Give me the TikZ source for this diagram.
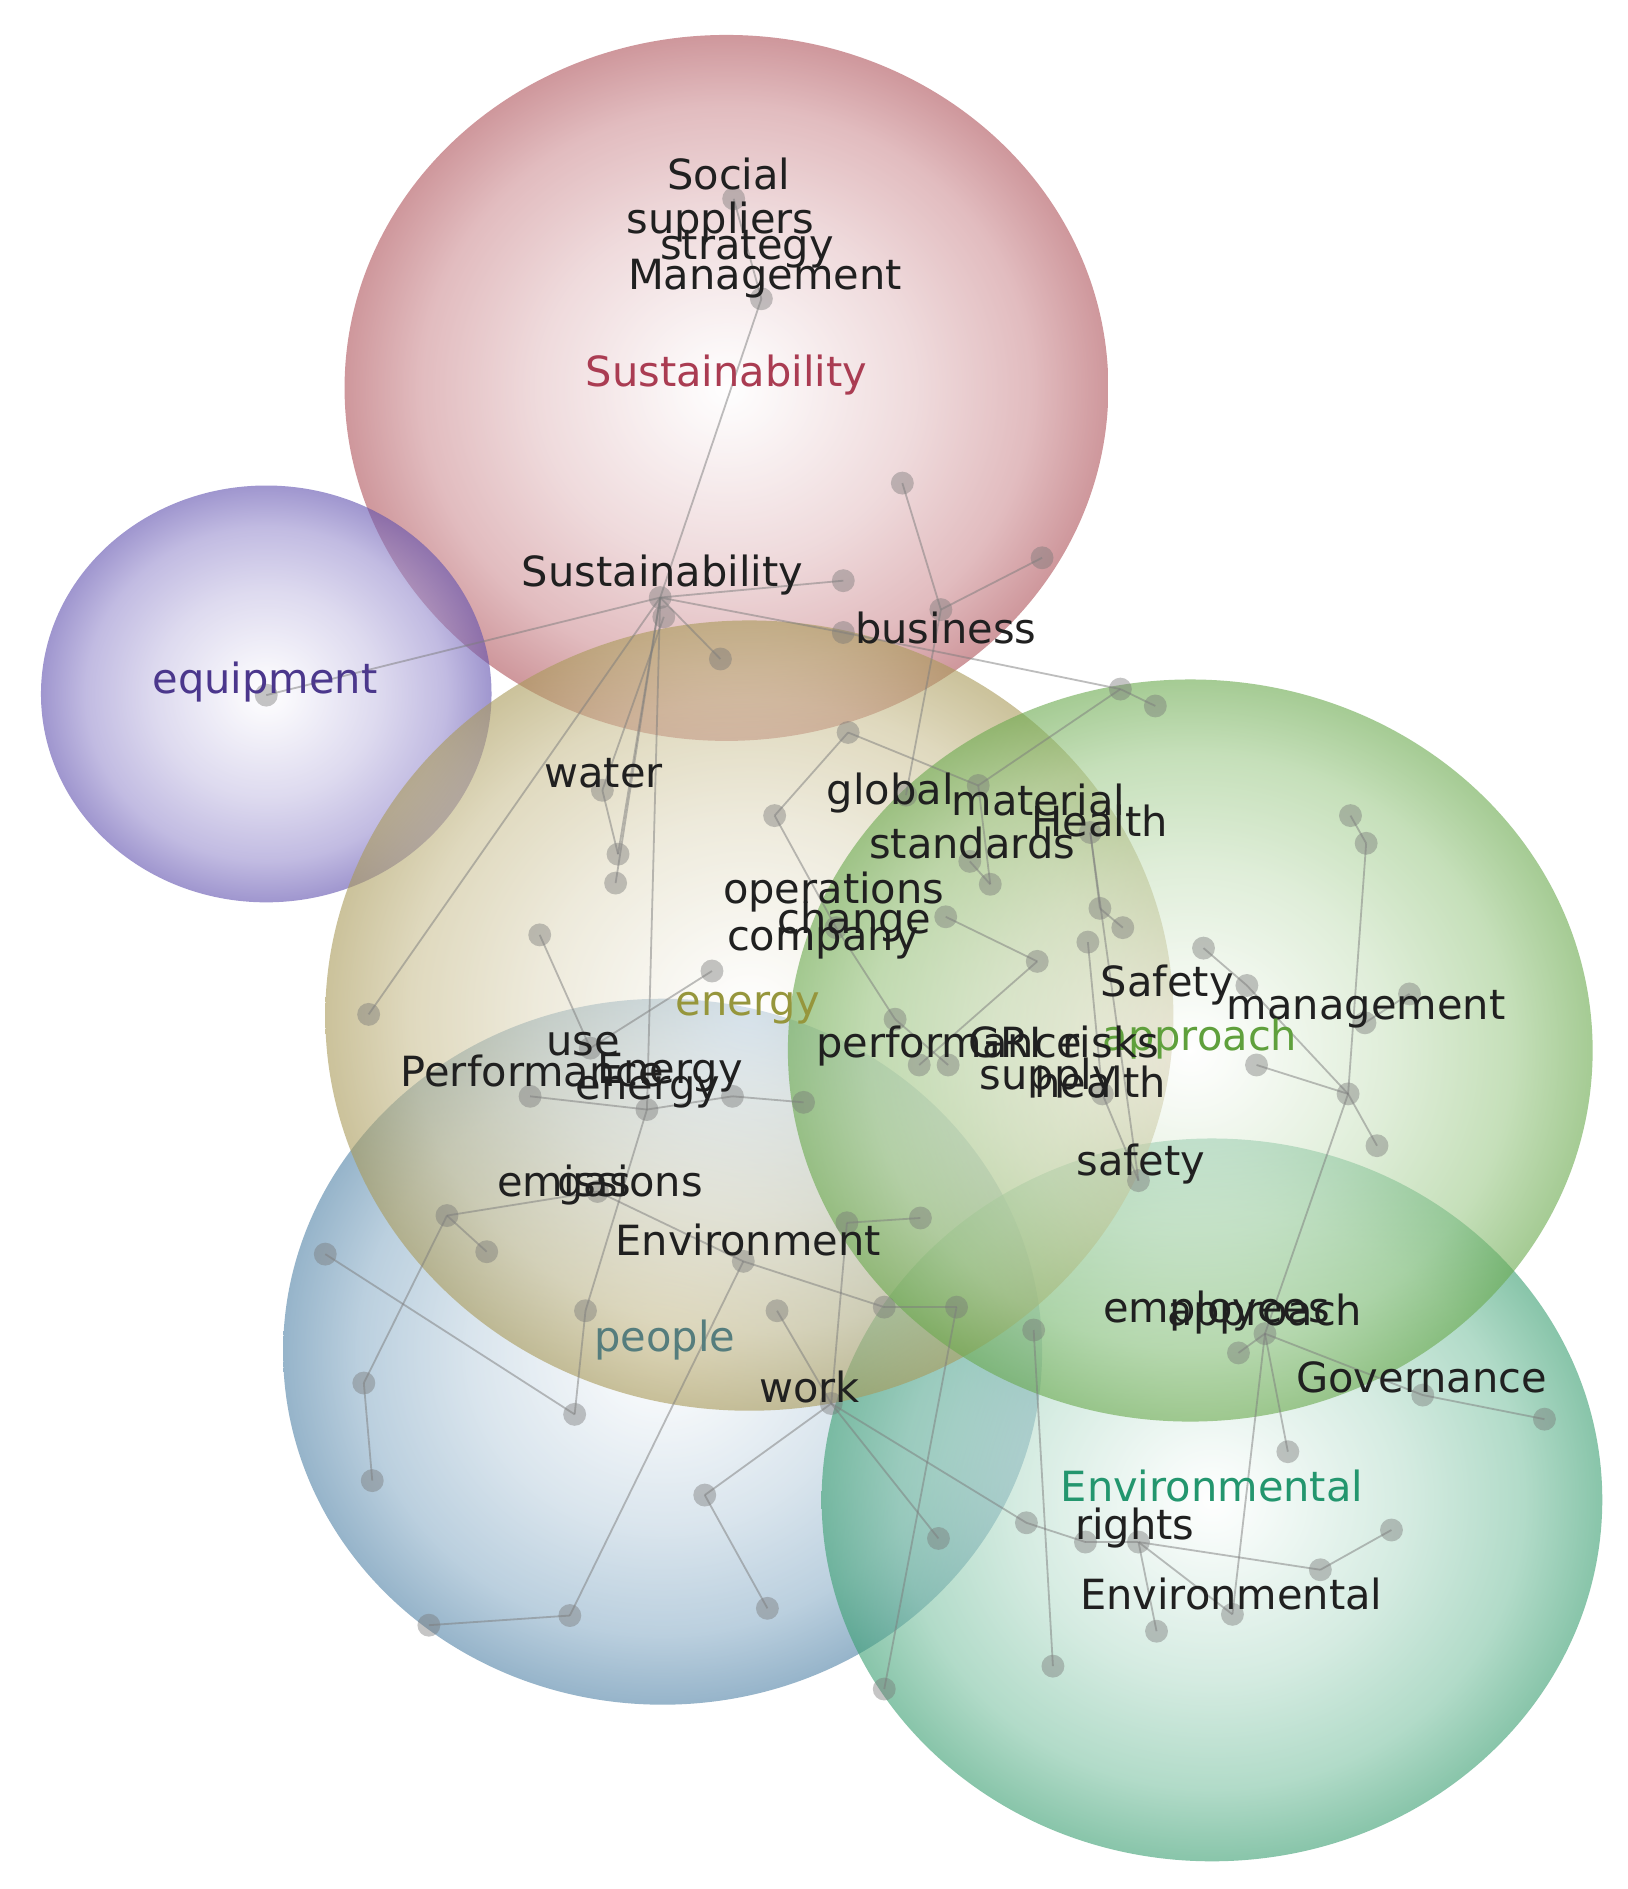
\documentclass[tikz,border=0pt]{standalone}
\usepackage{fontspec}
\setmainfont{DejaVu Sans}
\newfontfamily\lblfamily{DejaVu Sans}
\newcommand\lblfont{\lblfamily\fontsize{34.5}{40}\selectfont}
\definecolor{cRed}{RGB}{182,86,94}
\definecolor{cPur}{RGB}{100,84,182}
\definecolor{cOli}{RGB}{176,160,92}
\definecolor{cGre}{RGB}{110,176,80}
\definecolor{cBlu}{RGB}{84,136,174}
\definecolor{cTea}{RGB}{60,165,118}
\definecolor{lblc}{RGB}{32,32,32}
\definecolor{dotc}{RGB}{118,118,118}
\definecolor{edgec}{RGB}{125,125,125}
\definecolor{tRed}{RGB}{170,60,82}
\definecolor{tPur}{RGB}{75,55,140}
\definecolor{tOli}{RGB}{150,150,60}
\definecolor{tGre}{RGB}{95,160,60}
\definecolor{tBlu}{RGB}{85,125,125}
\definecolor{tTea}{RGB}{35,150,110}
\pgfdeclareradialshading{shRed}{\pgfpoint{0bp}{0bp}}{color(0bp)=(white); color(3bp)=(cRed!8!white); color(12.5bp)=(cRed!36!white); color(20bp)=(cRed!66!white); color(25bp)=(cRed!96!black); color(50bp)=(cRed!96!black)}
\pgfdeclareradialshading{shPur}{\pgfpoint{0bp}{0bp}}{color(0bp)=(white); color(3bp)=(cPur!8!white); color(12.5bp)=(cPur!36!white); color(20bp)=(cPur!66!white); color(25bp)=(cPur!96!black); color(50bp)=(cPur!96!black)}
\pgfdeclareradialshading{shOli}{\pgfpoint{0bp}{0bp}}{color(0bp)=(white); color(3bp)=(cOli!8!white); color(12.5bp)=(cOli!36!white); color(20bp)=(cOli!66!white); color(25bp)=(cOli!96!black); color(50bp)=(cOli!96!black)}
\pgfdeclareradialshading{shGre}{\pgfpoint{0bp}{0bp}}{color(0bp)=(white); color(3bp)=(cGre!8!white); color(12.5bp)=(cGre!36!white); color(20bp)=(cGre!66!white); color(25bp)=(cGre!96!black); color(50bp)=(cGre!96!black)}
\pgfdeclareradialshading{shBlu}{\pgfpoint{0bp}{0bp}}{color(0bp)=(white); color(3bp)=(cBlu!8!white); color(12.5bp)=(cBlu!36!white); color(20bp)=(cBlu!66!white); color(25bp)=(cBlu!96!black); color(50bp)=(cBlu!96!black)}
\pgfdeclareradialshading{shTea}{\pgfpoint{0bp}{0bp}}{color(0bp)=(white); color(3bp)=(cTea!8!white); color(12.5bp)=(cTea!36!white); color(20bp)=(cTea!66!white); color(25bp)=(cTea!96!black); color(50bp)=(cTea!96!black)}
\tikzset{
  lbl/.style={font=\lblfont, text=lblc, inner sep=0pt, anchor=base},
  dot/.style={circle, fill=dotc, fill opacity=0.42, minimum size=19pt, inner sep=0pt},
  edge/.style={draw=edgec, line width=1.5pt, draw opacity=0.5},
  bubble/.style={opacity=0.6},
}
\begin{document}
\begin{tikzpicture}[x=1pt,y=-1pt]
\useasboundingbox (0,0) rectangle (1351,1568);
\fill[white] (0,0) rectangle (1351,1568);
% bubbles
\shade[shading=shRed,bubble] (603,322) ellipse [x radius=317, y radius=293];
\shade[shading=shPur,bubble] (221,576) ellipse [x radius=187, y radius=173];
\shade[shading=shBlu,bubble] (550,1122) ellipse [x radius=315, y radius=293];
\shade[shading=shTea,bubble] (1006,1245) ellipse [x radius=324, y radius=300];
\shade[shading=shOli,bubble] (622,843) ellipse [x radius=352, y radius=328];
\shade[shading=shGre,bubble] (988,872) ellipse [x radius=334, y radius=308];
% dots
\foreach \n/\x/\y in {n1/609/165, n2/632/248, n3/548/496, n3b/551/512, n4/700/482, n5/749/401, n6/781/506, n7/865/463, n8/598/547, n9/700/525, eq/221/577,
 n10/704/608, n11/643/677, n12/812/652, n13/930/572, n14/959/586, n15/805/715, n16/822/734, n17/785/761, n18/913/754, n19/932/770, n20/903/782, n21/861/798, n22/591/806, n23/448/776, n24/500/656, n25/513/709, n26/511/733, n27/306/842, n28/999/787, n29/1035/818, n30/1121/677, n31/1134/700, n32/1170/825, n33/1133/849, n34/1043/884, n35/1119/908, n36/1143/951, n37/743/846, n38/763/884, n39/787/884, n40/667/915, n41/915/908, n42/945/980, n43/440/910, n44/537/921, n45/608/910, n46/490/870,
 n47/270/1041, n48/371/1009, n49/404/1039, n50/302/1148, n51/309/1229, n52/477/1174, n53/486/1088, n54/356/1349, n55/473/1341, n56/585/1241, n57/637/1335, n58/645/1088, n59/703/1015, n60/764/1011, n61/734/1085, n62/794/1085, n63/858/1104, n64/779/1277, n65/734/1402, n66/617/1047, n67/496/989, n68/690/1165,
 n69/1050/1107, n70/1028/1123, n71/1069/1205, n72/1181/1158, n73/1282/1178, n74/852/1264, n75/901/1280, n76/945/1280, n77/1155/1270, n78/1096/1303, n79/1023/1340, n80/960/1354, n81/874/1383, n82/752/660, n83/694/770, n84/905/691}
  {\node[dot] (\n) at (\x,\y) {};}
% edges
\foreach \a/\b in {n2/n3, n1/n2, n3/n4, n3/n8, n3/eq, n3/n9, n9/n13, n5/n6, n7/n6, n6/n82, n3/n25, n3/n26, n3/n27, n3/n44, n24/n25, n3b/n24,
 n10/n11, n10/n12, n13/n12, n13/n14, n12/n16, n16/n15, n11/n83, n83/n37, n37/n39, n21/n38, n84/n18, n18/n19, n84/n42, n20/n41, n41/n42,
 n28/n29, n29/n35, n34/n35, n35/n36, n30/n31, n31/n35, n32/n33, n35/n69, n69/n71, n69/n70, n69/n72, n72/n73, n69/n79,
 n74/n75, n75/n76, n76/n78, n78/n77, n76/n79, n76/n80, n63/n81, n62/n65, n68/n64, n68/n74, n68/n56, n56/n57, n55/n54, n55/n66,
 n47/n52, n48/n49, n48/n50, n50/n51, n53/n52, n53/n44, n58/n68, n59/n60, n67/n66, n66/n61, n61/n62, n59/n68, n48/n67,
 n23/n46, n22/n46, n43/n44, n44/n45, n45/n40, n17/n21}
  {\draw[edge] (\a.center) -- (\b.center);}
% labels
\node[lbl] (lSocial) at (605,157) {Social};
\node[lbl] (lSuppliers) at (598,194) {suppliers};
\node[lbl] (lStrategy) at (620,215) {strategy};
\node[lbl] (lManagement) at (635,240) {Management};
\node[lbl, text=tRed] (cSust) at (603,321) {Sustainability};
\node[lbl] (lSust) at (550,487) {Sustainability};
\node[lbl] (lBusiness) at (785,534) {business};
\node[lbl, text=tPur] (cEquip) at (220,576) {equipment};
\node[lbl] (lWater) at (501,654) {water};
\node[lbl] (lGlobal) at (739,668) {global};
\node[lbl] (lMaterial) at (862,677) {material};
\node[lbl] (lHealthA) at (913,694) {Health};
\node[lbl] (lStandards) at (807,713) {standards};
\node[lbl] (lOperations) at (692,750) {operations};
\node[lbl] (lChange) at (709,775) {change};
\node[lbl] (lCompany) at (683,789) {company};
\node[lbl, text=tOli] (cEnergy) at (621,843) {energy};
\node[lbl] (lSafetyA) at (969,827) {Safety};
\node[lbl] (lMgmt) at (1134,846) {management};
\node[lbl, text=tGre] (cApproach) at (996,872) {approach};
\node[lbl] (lUse) at (484,876) {use};
\node[lbl] (lPerf) at (788,878) {performance};
\node[lbl] (lGRI) at (834,878) {GRI};
\node[lbl] (lRisks) at (922,878) {risks};
\node[lbl] (lPerfA) at (442,902) {Performance};
\node[lbl] (lEnergyA) at (556,899) {Energy};
\node[lbl] (lEnergy) at (538,913) {energy};
\node[lbl] (lSupply) at (870,904) {supply};
\node[lbl] (lHealth) at (913,911) {health};
\node[lbl] (lSafety) at (947,976) {safety};
\node[lbl] (lEmissions) at (498,993) {emissions};
\node[lbl] (lGas) at (493,993) {gas};
\node[lbl] (lEnvironment) at (621,1042) {Environment};
\node[lbl] (lEmployees) at (1010,1098) {employees};
\node[lbl] (lApproach) at (1050,1100) {approach};
\node[lbl, text=tBlu] (cPeople) at (552,1122) {people};
\node[lbl] (lWork) at (672,1164) {work};
\node[lbl] (lGovernance) at (1180,1156) {Governance};
\node[lbl, text=tTea] (cEnvtl) at (1006,1246) {Environmental};
\node[lbl] (lRights) at (942,1278) {rights};
\node[lbl] (lEnvtl) at (1022,1336) {Environmental};
\end{tikzpicture}
\end{document}
